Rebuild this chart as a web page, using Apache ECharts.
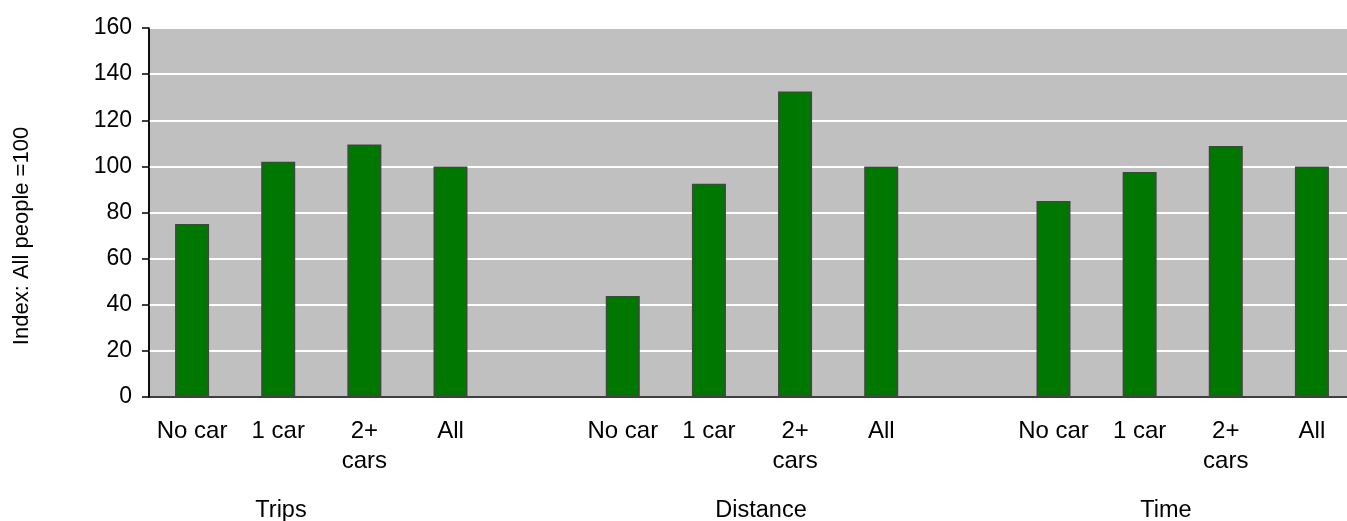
<!DOCTYPE html>
<html>
<head>
<meta charset="utf-8">
<script src="https://cdn.jsdelivr.net/npm/echarts@6/dist/echarts.min.js"></script>
<style>html,body{margin:0;padding:0;background:#fff;}#c{width:1347px;height:521px;}</style>
</head>
<body>
<div id="c"></div>
<script>
const categories = ['No car','1 car','2+\ncars','All','', 'No car','1 car','2+\ncars','All','', 'No car','1 car','2+\ncars','All'];
const indexValues = [75, 102, 109.5, 100, null, 43.8, 92.5, 132.5, 100, null, 85, 97.6, 108.8, 100];
const groupLabels = ['Trips', 'Distance', 'Time'];
const yTicks = { min: 0, max: 160, interval: 20 };
const yAxisTitle = 'Index: All people =100';

const font = '"Liberation Sans", Arial, sans-serif';
const fs = 23;
const chart = echarts.init(document.getElementById('c'), null, { renderer: 'canvas' });
const groupX = [281, 761, 1166];
const graphics = groupLabels.map((t, i) => ({
  type: 'text',
  x: groupX[i],
  y: 511,
  style: { text: t, fill: '#000', font: '23.5px ' + font, textAlign: 'center', textVerticalAlign: 'middle' }
}));
graphics.push({
  type: 'text',
  x: 22,
  y: 236,
  rotation: Math.PI / 2,
  style: { text: yAxisTitle, fill: '#000', font: '22px ' + font, textAlign: 'center', textVerticalAlign: 'middle' }
});
chart.setOption({
  animation: false,
  backgroundColor: '#ffffff',
  grid: { left: 149, top: 28, right: -8, bottom: 124, outerBoundsMode: 'none', containLabel: false, show: true, backgroundColor: '#c0c0c0', borderColor: '#000', borderWidth: 1.5 },
  xAxis: {
    type: 'category',
    data: categories,
    boundaryGap: true,
    axisLine: { lineStyle: { color: '#000', width: 1.5 } },
    axisTick: { show: false },
    axisLabel: { interval: 0, color: '#000', fontFamily: font, fontSize: 24, lineHeight: 29.5, margin: 20 }
  },
  yAxis: {
    type: 'value',
    min: yTicks.min, max: yTicks.max, interval: yTicks.interval,
    axisLine: { show: true, lineStyle: { color: '#000', width: 1.5 } },
    axisTick: { show: true, inside: false, length: 7, lineStyle: { color: '#000', width: 1.5 } },
    axisLabel: { color: '#000', fontFamily: font, fontSize: fs, margin: 17 },
    splitLine: { show: true, lineStyle: { color: '#ffffff', width: 2 } }
  },
  series: [{
    type: 'bar',
    data: indexValues,
    barWidth: 34,
    itemStyle: { color: '#007800', borderColor: '#444444', borderWidth: 1.5 }
  }],
  graphic: graphics
});
</script>
</body>
</html>
